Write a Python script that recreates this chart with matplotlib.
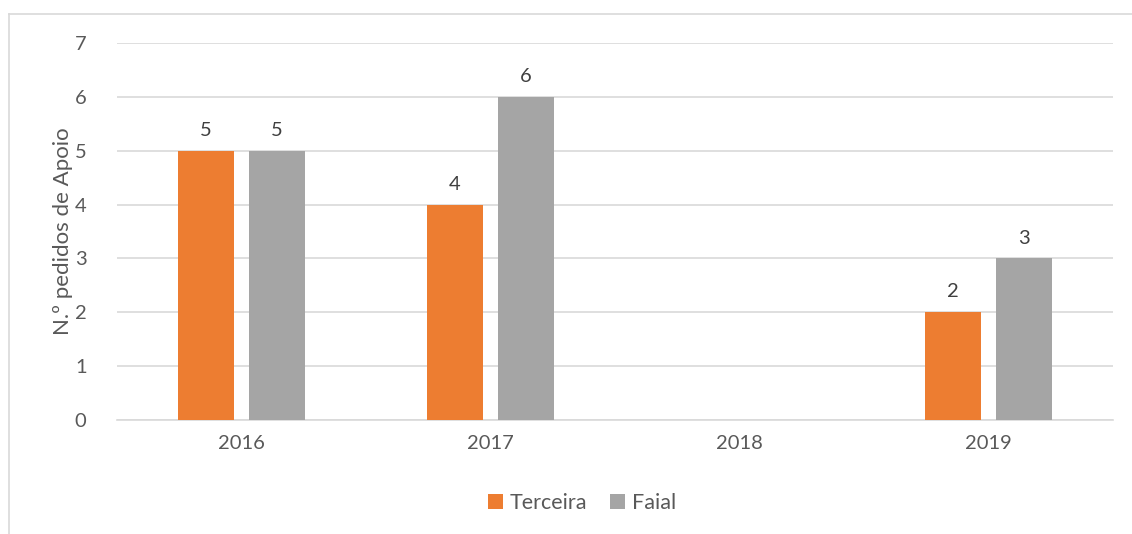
import matplotlib
matplotlib.use('Agg')
import matplotlib.pyplot as plt
from matplotlib.lines import Line2D
import numpy as np

# data
years = ['2016', '2017', '2018', '2019']
terceira = [5, 4, np.nan, 2]
faial = [5, 6, np.nan, 3]
yticks = [0, 1, 2, 3, 4, 5, 6, 7]

plt.rcParams['font.family'] = ['Lato', 'DejaVu Sans']
text_color = '#595959'
grid_color = '#d9d9d9'

fig = plt.figure(figsize=(11.32, 5.34), dpi=100)
ax = fig.add_axes([0.1034, 0.2135, 0.8798, 0.706])

x = np.arange(len(years))
width = 0.225
off = 0.1425

bars1 = ax.bar(x - off, terceira, width, color='#ED7D31', label='Terceira', zorder=3)
bars2 = ax.bar(x + off, faial, width, color='#A5A5A5', label='Faial', zorder=3)

for bars in (bars1, bars2):
    for b in bars:
        h = b.get_height()
        if np.isnan(h):
            continue
        ax.text(b.get_x() + b.get_width() / 2, h + 0.22, f'{int(h)}',
                ha='center', va='bottom', fontsize=14.5, color='#404040')

ax.set_xlim(-0.5, len(years) - 0.5)
ax.set_ylim(0, 7)
ax.set_yticks(yticks)
ax.set_xticks(x)
ax.set_xticklabels(years)
ax.tick_params(axis='both', length=0, labelsize=14.5, colors=text_color)
ax.tick_params(axis='y', pad=22)
ax.tick_params(axis='x', pad=11)
ax.grid(axis='y', color=grid_color, linewidth=1.2, zorder=0)
for s in ['top', 'right', 'left']:
    ax.spines[s].set_visible(False)
ax.spines['bottom'].set_color(grid_color)
ax.spines['bottom'].set_linewidth(1.2)

ax.set_ylabel('N.º pedidos de Apoio', fontsize=16, color=text_color, labelpad=1)

fig.legend(loc='center', bbox_to_anchor=(0.514, 0.058), ncol=2, frameon=False,
           fontsize=15.5, handlelength=0.7, handleheight=0.7, handletextpad=0.3,
           columnspacing=1.1, labelcolor=text_color)

# chart border (outer frame)
fig.add_artist(Line2D([0.008, 1.0], [0.9747, 0.9747], transform=fig.transFigure,
                      color='#d9d9d9', linewidth=1.2))
fig.add_artist(Line2D([0.008, 0.008], [0.0, 0.9747], transform=fig.transFigure,
                      color='#d9d9d9', linewidth=1.2))

fig.savefig('out.png', dpi=100)
